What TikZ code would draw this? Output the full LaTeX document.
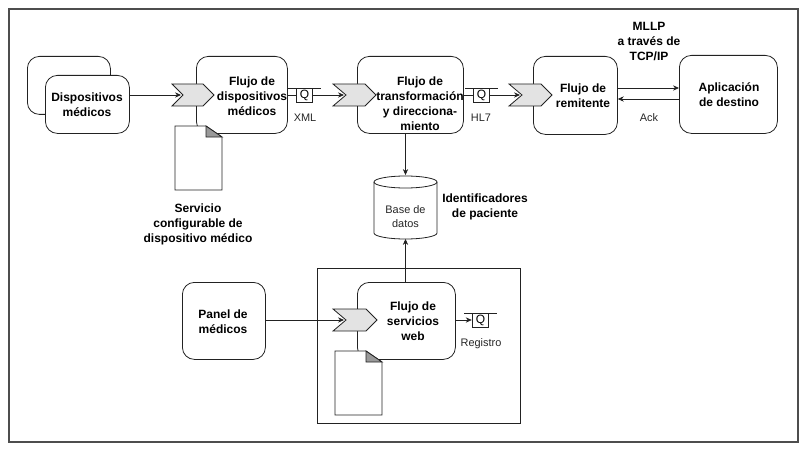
\documentclass[tikz,border=0pt]{standalone}
\usepackage{fontspec}
\setmainfont{Liberation Sans}
\usetikzlibrary{arrows.meta}
\definecolor{ln}{HTML}{222222}
\definecolor{chev}{HTML}{E3E3E3}
\definecolor{foldc}{HTML}{999999}
\tikzset{
 x=0.75pt,y=-0.75pt,
 conn/.style={draw=ln,line width=0.6pt,-{Stealth[length=4.5pt,width=4pt]}},
 plain/.style={draw=ln,line width=0.6pt},
 rbox/.style={draw=ln,line width=0.6pt,fill=white,rounded corners=9pt},
 lbl/.style={font=\fontsize{9pt}{11.2pt}\selectfont\bfseries,align=center,text=black,inner sep=0pt},
 small/.style={font=\fontsize{8.2pt}{10pt}\selectfont,align=center,text=black!85,inner sep=0pt},
}
\newcommand{\rb}[5]{\node[rbox,minimum width=#4*0.75pt-#2*0.75pt,minimum height=#5*0.75pt-#3*0.75pt,inner sep=0pt,anchor=north west] (#1) at (#2,#3) {};}
\newcommand{\chevr}[5]{% name, xleft, notch x, tip x, ymid
 \draw[draw=ln,line width=0.6pt,fill=chev] (#2,#5-11) -- (#4-11,#5-11) -- (#4,#5) -- (#4-11,#5+11) -- (#2,#5+11) -- (#3,#5) -- cycle;
 \coordinate (#1) at (#3-2,#5);}
\newcommand{\queue}[3]{% name, x left, y mid
 \node[draw=ln,line width=0.6pt,fill=white,minimum width=12.5pt,minimum height=10.5pt,inner sep=0pt,font=\fontsize{9pt}{10pt}\selectfont] (#1) at (#2+8.5,#3) {Q};
 \draw[plain] (#2-8,#3-7) -- (#2,#3-7) (#2+17,#3-7) -- (#2+25,#3-7);}
\newcommand{\docu}[4]{% x1 y1 x2 y2
 \draw[draw=ln,line width=0.6pt,fill=white] (#1,#2) -- (#3-16,#2) -- (#3,#2+11) -- (#3,#4) -- (#1,#4) -- cycle;
 \draw[draw=ln,line width=0.6pt,fill=foldc] (#3-16,#2) -- (#3,#2+11) -- (#3-16,#2+11) -- cycle;}
\begin{document}
\begin{tikzpicture}
\useasboundingbox (0,0) rectangle (807,453);
\draw[draw=ln!80,line width=0.8pt] (9,9) rectangle (798,442);
\draw[draw=ln,line width=0.6pt] (317,268) rectangle (520,423);
\coordinate (rtop) at (405.5,268);
% back / front devices
\rb{back}{27}{56}{110}{114}
\rb{dev}{45}{75}{129}{133}
\node[lbl] at (87,105) {Dispositivos\\médicos};
% flow boxes
\rb{f1}{196}{56}{287}{133}
\node[lbl] at (252,96.5) {Flujo de\\dispositivos\\médicos};
\chevr{c1}{172}{183}{214}{95}
\docu{175}{126}{222}{190}
\node[lbl] at (198,224.5) {Servicio\\configurable de\\dispositivo médico};
\rb{f2}{357}{56}{463}{133}
\node[lbl] at (420,103.5) {Flujo de\\transformación\\y direcciona-\\miento};
\chevr{c2}{333}{346}{376}{95}
\rb{f3}{533}{56}{617}{134}
\node[lbl] at (583,95.5) {Flujo de\\remitente};
\chevr{c3}{509}{522}{552}{95}
\rb{app}{679}{55}{777}{133}
\node[lbl] at (729,94.5) {Aplicación\\de destino};
\node[lbl] at (649,41.5) {MLLP\\a través de\\TCP/IP};
\queue{q1}{296}{95}
\queue{q2}{473}{95}
\node[small] at (305,118) {XML};
\node[small] at (481,118) {HL7};
\node[small] at (649,118) {Ack};
\draw[conn] (dev.east |- 0,95) -- (c1);
\draw[plain] (f1.east |- 0,95) -- (q1.west);
\draw[conn] (q1.east) -- (c2);
\draw[plain] (f2.east |- 0,95) -- (q2.west);
\draw[conn] (q2.east) -- (c3);
\draw[conn] (f3.east |- 0,88) -- (app.west |- 0,88);
\draw[conn] (app.west |- 0,99) -- (f3.east |- 0,99);
% cylinder
\draw[draw=ln,line width=0.6pt,fill=white] (374,182) arc[start angle=180,end angle=0,x radius=31.5,y radius=-6] -- (437,233) arc[start angle=0,end angle=-180,x radius=31.5,y radius=-6] -- cycle;
\draw[draw=ln,line width=0.6pt] (374,182) arc[start angle=180,end angle=360,x radius=31.5,y radius=-6];
\node[minimum width=47pt,minimum height=47.5pt,inner sep=0pt] (db) at (405.5,207) {};
\node[small] (dbtext) at (405.5,216.5) {Base de\\datos};
\node[lbl] at (485,207) {Identificadores\\de paciente};
\draw[conn] (f2.south -| db) -- (db.north);
\draw[conn] (rtop) -- (db.south);
% web
\rb{panel}{182}{282}{265}{359}
\node[lbl] at (223,321.5) {Panel de\\médicos};
\rb{f4}{357}{282}{455}{359}
\node[lbl] at (413,321.5) {Flujo de\\servicios\\web};
\chevr{c4}{333}{346}{377}{320}
\docu{335}{351}{382}{415}
\queue{q3}{472}{320}
\node[small] at (481,344) {Registro};
\draw[conn] (panel.east |- 0,320) -- (c4);
\draw[conn] (f4.east |- 0,320) -- (q3.west);
\draw[plain] (f4.north -| rtop) -- (rtop);
\end{tikzpicture}
\end{document}
